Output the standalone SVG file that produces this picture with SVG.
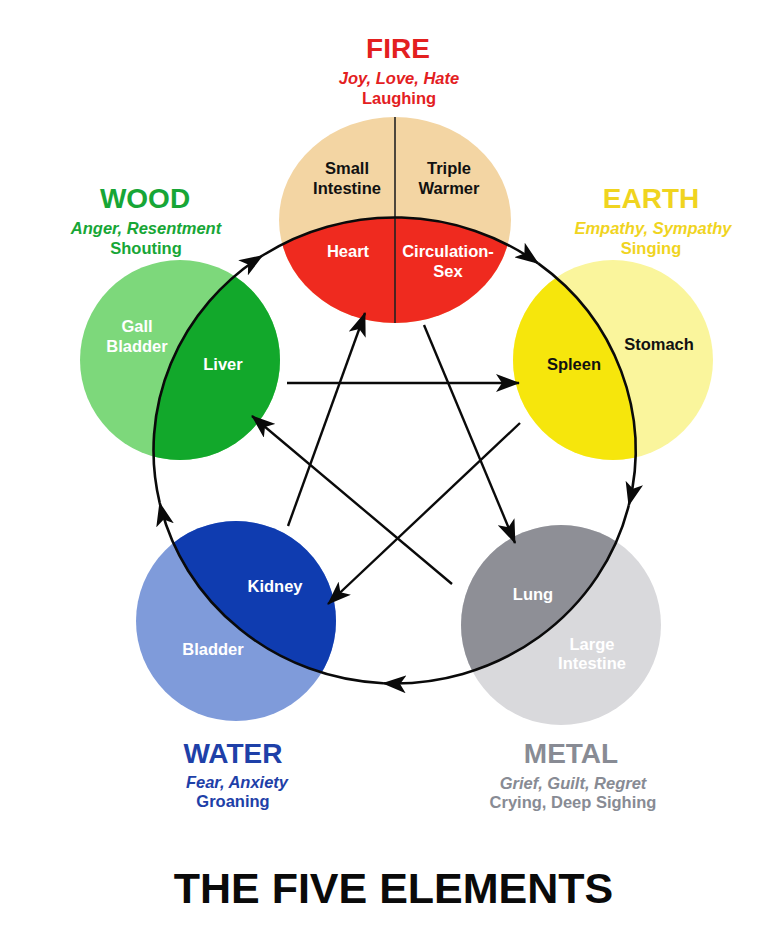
<svg xmlns="http://www.w3.org/2000/svg" width="768" height="949" viewBox="0 0 768 949">
<style>
text{font-family:"Liberation Sans",Arial,Helvetica,sans-serif;font-weight:bold;text-anchor:middle}
.el{font-size:28px}
.sub{font-size:16.5px}
.it{font-style:italic}
.org{font-size:16.5px}
.w{fill:#ffffff}
.k{fill:#111111}
.ttl{font-size:43px;fill:#0a0a0a}
.cyc{fill:none;stroke:#0a0a0a;stroke-width:2.6}
.star{fill:none;stroke:#0a0a0a;stroke-width:2.4}
</style>
<defs>
<clipPath id="inner"><ellipse cx="394.5" cy="450.5" rx="241" ry="233"/></clipPath>
<marker id="ah" viewBox="0 0 24 18" refX="23" refY="9" markerWidth="24" markerHeight="18" markerUnits="userSpaceOnUse" orient="auto">
<path d="M0,0 L24,9 L0,18 L6,9 Z" fill="#0a0a0a"/>
</marker>
</defs>
<rect width="768" height="949" fill="#ffffff"/>

<g id="fire">
<ellipse cx="395" cy="220" rx="116" ry="103" fill="#F3D5A3"/>
<ellipse cx="395" cy="220" rx="116" ry="103" fill="#EF2A1F" clip-path="url(#inner)"/>
<line x1="395" y1="117" x2="395" y2="323" stroke="#222" stroke-width="1.6"/>
<text class="el" x="398" y="58" fill="#E3201F">FIRE</text>
<text class="sub it" x="399" y="84" fill="#E3201F">Joy, Love, Hate</text>
<text class="sub" x="399" y="104" fill="#E3201F">Laughing</text>
<text class="org k" x="347" y="174">Small</text>
<text class="org k" x="347" y="194">Intestine</text>
<text class="org k" x="449" y="174">Triple</text>
<text class="org k" x="449" y="194">Warmer</text>
<text class="org w" x="348" y="257">Heart</text>
<text class="org w" x="448" y="257">Circulation-</text>
<text class="org w" x="448" y="277">Sex</text>
</g>

<g id="earth">
<circle cx="613" cy="360" r="100" fill="#FAF59C"/>
<circle cx="613" cy="360" r="100" fill="#F6E60C" clip-path="url(#inner)"/>
<text class="el" x="651" y="208" fill="#F0D41F">EARTH</text>
<text class="sub it" x="653" y="234" fill="#F0D41F">Empathy, Sympathy</text>
<text class="sub" x="651" y="254" fill="#F0D41F">Singing</text>
<text class="org k" x="659" y="350">Stomach</text>
<text class="org k" x="574" y="370">Spleen</text>
</g>

<g id="wood">
<circle cx="180" cy="360" r="100" fill="#7DD87B"/>
<circle cx="180" cy="360" r="100" fill="#12A82B" clip-path="url(#inner)"/>
<text class="el" x="145" y="208" fill="#17A636">WOOD</text>
<text class="sub it" x="146" y="234" fill="#17A636">Anger, Resentment</text>
<text class="sub" x="146" y="254" fill="#17A636">Shouting</text>
<text class="org w" x="137" y="332">Gall</text>
<text class="org w" x="137" y="352">Bladder</text>
<text class="org w" x="223" y="370">Liver</text>
</g>

<g id="water">
<circle cx="236" cy="621" r="100" fill="#7F9BDA"/>
<circle cx="236" cy="621" r="100" fill="#0F3CB0" clip-path="url(#inner)"/>
<text class="el" x="233" y="763" fill="#1E40A8">WATER</text>
<text class="sub it" x="237" y="788" fill="#1E40A8">Fear, Anxiety</text>
<text class="sub" x="233" y="807" fill="#1E40A8">Groaning</text>
<text class="org w" x="275" y="592">Kidney</text>
<text class="org w" x="213" y="655">Bladder</text>
</g>

<g id="metal">
<circle cx="561" cy="625" r="100" fill="#D9D9DC"/>
<circle cx="561" cy="625" r="100" fill="#8E8F96" clip-path="url(#inner)"/>
<text class="el" x="571" y="763" fill="#888B94">METAL</text>
<text class="sub it" x="573" y="789" fill="#888B94">Grief, Guilt, Regret</text>
<text class="sub" x="573" y="808" fill="#888B94">Crying, Deep Sighing</text>
<text class="org w" x="533" y="600">Lung</text>
<text class="org w" x="592" y="650">Large</text>
<text class="org w" x="592" y="669">Intestine</text>
</g>

<g id="connectors">
<path class="cyc" marker-end="url(#ah)" d="M159.7,502.9 A241,233 0 0 1 262.5,255.5"/>
<path class="cyc" marker-end="url(#ah)" d="M262.5,255.5 A241,233 0 0 1 538.2,263.4"/>
<path class="cyc" marker-end="url(#ah)" d="M538.2,263.4 A241,233 0 0 1 628.8,505.3"/>
<path class="cyc" marker-end="url(#ah)" d="M628.8,505.3 A241,233 0 0 1 383.1,683.2"/>
<path class="cyc" marker-end="url(#ah)" d="M383.1,683.2 A241,233 0 0 1 159.7,502.9"/>
<line class="star" marker-end="url(#ah)" x1="287" y1="383" x2="519" y2="383"/>
<line class="star" marker-end="url(#ah)" x1="520" y1="423" x2="328" y2="604"/>
<line class="star" marker-end="url(#ah)" x1="288" y1="526" x2="365" y2="313"/>
<line class="star" marker-end="url(#ah)" x1="424" y1="325" x2="515" y2="543"/>
<line class="star" marker-end="url(#ah)" x1="452" y1="584" x2="252" y2="416"/>
</g>

<g id="title">
<text class="ttl" x="393.5" y="903">THE FIVE ELEMENTS</text>
</g>
</svg>
